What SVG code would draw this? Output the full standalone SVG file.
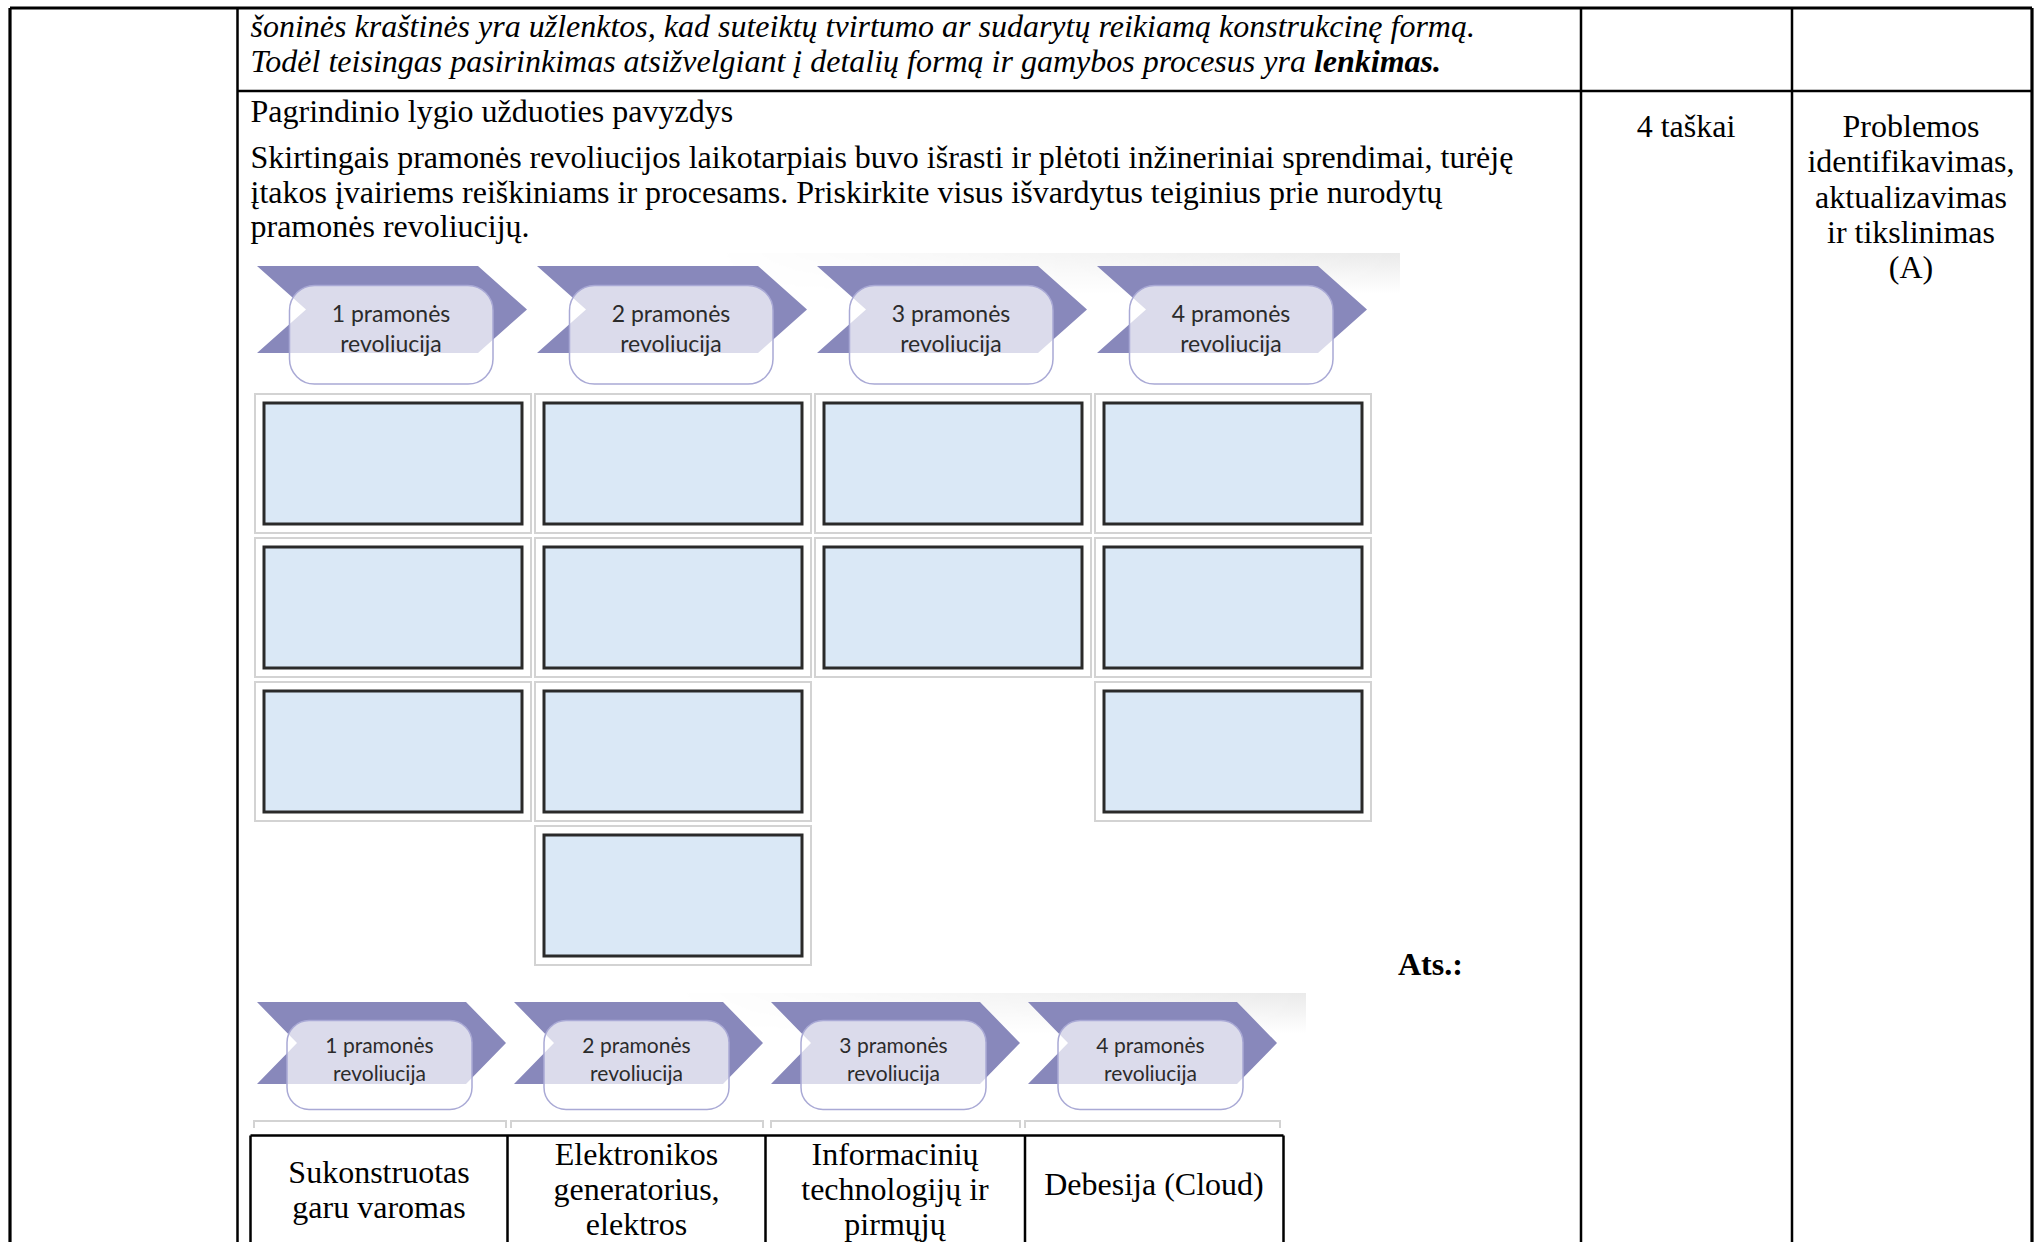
<svg xmlns="http://www.w3.org/2000/svg" width="2035" height="1242" viewBox="0 0 2035 1242">
<defs>
<style>
.t{font-family:"Liberation Serif","Times New Roman",serif;font-size:32px;fill:#000}
.i{font-style:italic}
.b{font-weight:bold}
.c{text-anchor:middle}
.ln{stroke:#000;stroke-width:2.5;fill:none}
.lo{stroke:#000;stroke-width:3.2;fill:none}
.chev{fill:#8888BB}
.pill{fill:#fff;fill-opacity:0.7;stroke:#A9A9D5;stroke-width:1.5}
.pl{font-family:Lato,"Open Sans",sans-serif;font-size:23px;fill:#2b2b2b;text-anchor:middle}
.pl2{font-size:21px}
.ob{fill:#fff;stroke:#D3D3D3;stroke-width:2}
.ib{fill:#DAE8F6;stroke:#2A2A2A;stroke-width:3}
.gl{fill:none;stroke:#D3D3D3;stroke-width:2}
</style>
<linearGradient id="gh" x1="0" y1="0" x2="1" y2="0"><stop offset="0" stop-color="#000"/><stop offset="0.4" stop-color="#000"/><stop offset="1" stop-color="#fff"/></linearGradient>
<linearGradient id="gv" x1="0" y1="0" x2="0" y2="1"><stop offset="0" stop-color="#EAEAEA"/><stop offset="1" stop-color="#FFFFFF"/></linearGradient>
<mask id="mh" maskContentUnits="objectBoundingBox"><rect width="1" height="1" fill="url(#gh)"/></mask>
</defs>
<rect width="2035" height="1242" fill="#fff"/>

<g id="table">
<path class="lo" d="M10,8 H2032 M10,8 V1242 M2032,8 V1242"/>
<path class="ln" d="M237.5,8 V1242 M1581,8 V1242 M1792,8 V1242 M237.5,91 H2032"/>
</g>

<g id="row1-text">
<text class="t i" x="250.5" y="37">šoninės kraštinės yra užlenktos, kad suteiktų tvirtumo ar sudarytų reikiamą konstrukcinę formą.</text>
<text class="t i" x="250.5" y="72">Todėl teisingas pasirinkimas atsižvelgiant į detalių formą ir gamybos procesus yra <tspan class="b">lenkimas.</tspan></text>
</g>

<g id="task-text">
<text class="t" x="250.5" y="121.5">Pagrindinio lygio užduoties pavyzdys</text>
<text class="t" x="250.5" y="168">Skirtingais pramonės revoliucijos laikotarpiais buvo išrasti ir plėtoti inžineriniai sprendimai, turėję</text>
<text class="t" x="250.5" y="202.5">įtakos įvairiems reiškiniams ir procesams. Priskirkite visus išvardytus teiginius prie nurodytų</text>
<text class="t" x="250.5" y="237">pramonės revoliucijų.</text>
</g>

<g id="points"><text class="t c" x="1686" y="137">4 taškai</text></g>
<g id="competence">
<text class="t c" x="1911" y="137">Problemos</text>
<text class="t c" x="1911" y="172">identifikavimas,</text>
<text class="t c" x="1911" y="207.5">aktualizavimas</text>
<text class="t c" x="1911" y="243">ir tikslinimas</text>
<text class="t c" x="1911" y="278">(A)</text>
</g>

<rect x="250" y="253" width="1150" height="40" fill="url(#gv)" mask="url(#mh)"/>
<rect x="250" y="993" width="1056" height="40" fill="url(#gv)" mask="url(#mh)"/>

<g id="rev1">
<path class="chev" d="M257,266 H478 L527,309.5 L478,353 H257 L306,309.5 Z"/>
<rect class="pill" x="289.5" y="285.5" width="203.5" height="98.5" rx="25"/>
<text class="pl" x="391" y="322">1 pramonės</text><text class="pl" x="391" y="352">revoliucija</text>
</g>
<g id="rev2">
<path class="chev" d="M537,266 H758 L807,309.5 L758,353 H537 L586,309.5 Z"/>
<rect class="pill" x="569.5" y="285.5" width="203.5" height="98.5" rx="25"/>
<text class="pl" x="671" y="322">2 pramonės</text><text class="pl" x="671" y="352">revoliucija</text>
</g>
<g id="rev3">
<path class="chev" d="M817,266 H1038 L1087,309.5 L1038,353 H817 L866,309.5 Z"/>
<rect class="pill" x="849.5" y="285.5" width="203.5" height="98.5" rx="25"/>
<text class="pl" x="951" y="322">3 pramonės</text><text class="pl" x="951" y="352">revoliucija</text>
</g>
<g id="rev4">
<path class="chev" d="M1097,266 H1318 L1367,309.5 L1318,353 H1097 L1146,309.5 Z"/>
<rect class="pill" x="1129.5" y="285.5" width="203.5" height="98.5" rx="25"/>
<text class="pl" x="1231" y="322">4 pramonės</text><text class="pl" x="1231" y="352">revoliucija</text>
</g>

<g id="slots">
<g id="s11"><rect class="ob" x="255" y="394" width="276" height="139"/><rect class="ib" x="264" y="403" width="258" height="121"/></g>
<g id="s12"><rect class="ob" x="535" y="394" width="276" height="139"/><rect class="ib" x="544" y="403" width="258" height="121"/></g>
<g id="s13"><rect class="ob" x="815" y="394" width="276" height="139"/><rect class="ib" x="824" y="403" width="258" height="121"/></g>
<g id="s14"><rect class="ob" x="1095" y="394" width="276" height="139"/><rect class="ib" x="1104" y="403" width="258" height="121"/></g>
<g id="s21"><rect class="ob" x="255" y="538" width="276" height="139"/><rect class="ib" x="264" y="547" width="258" height="121"/></g>
<g id="s22"><rect class="ob" x="535" y="538" width="276" height="139"/><rect class="ib" x="544" y="547" width="258" height="121"/></g>
<g id="s23"><rect class="ob" x="815" y="538" width="276" height="139"/><rect class="ib" x="824" y="547" width="258" height="121"/></g>
<g id="s24"><rect class="ob" x="1095" y="538" width="276" height="139"/><rect class="ib" x="1104" y="547" width="258" height="121"/></g>
<g id="s31"><rect class="ob" x="255" y="682" width="276" height="139"/><rect class="ib" x="264" y="691" width="258" height="121"/></g>
<g id="s32"><rect class="ob" x="535" y="682" width="276" height="139"/><rect class="ib" x="544" y="691" width="258" height="121"/></g>
<g id="s34"><rect class="ob" x="1095" y="682" width="276" height="139"/><rect class="ib" x="1104" y="691" width="258" height="121"/></g>
<g id="s42"><rect class="ob" x="535" y="826" width="276" height="139"/><rect class="ib" x="544" y="835" width="258" height="121"/></g>
</g>

<g id="answer-label"><text class="t b" x="1398" y="975">Ats.:</text></g>

<g id="arev1">
<path class="chev" d="M257,1002 H466 L506,1043 L466,1084 H257 L297,1043 Z"/>
<rect class="pill" x="287" y="1020.5" width="185" height="89" rx="22"/>
<text class="pl pl2" x="379.5" y="1052.5">1 pramonės</text><text class="pl pl2" x="379.5" y="1080.5">revoliucija</text>
</g>
<g id="arev2">
<path class="chev" d="M514,1002 H723 L763,1043 L723,1084 H514 L554,1043 Z"/>
<rect class="pill" x="544" y="1020.5" width="185" height="89" rx="22"/>
<text class="pl pl2" x="636.5" y="1052.5">2 pramonės</text><text class="pl pl2" x="636.5" y="1080.5">revoliucija</text>
</g>
<g id="arev3">
<path class="chev" d="M771,1002 H980 L1020,1043 L980,1084 H771 L811,1043 Z"/>
<rect class="pill" x="801" y="1020.5" width="185" height="89" rx="22"/>
<text class="pl pl2" x="893.5" y="1052.5">3 pramonės</text><text class="pl pl2" x="893.5" y="1080.5">revoliucija</text>
</g>
<g id="arev4">
<path class="chev" d="M1028,1002 H1237 L1277,1043 L1237,1084 H1028 L1068,1043 Z"/>
<rect class="pill" x="1058" y="1020.5" width="185" height="89" rx="22"/>
<text class="pl pl2" x="1150.5" y="1052.5">4 pramonės</text><text class="pl pl2" x="1150.5" y="1080.5">revoliucija</text>
</g>
<path class="gl" d="M254,1128 V1121 H506 V1128 M511,1128 V1121 H763 V1128 M771,1128 V1121 H1020 V1128 M1025,1128 V1121 H1280 V1128"/>

<g id="answer-table">
<path class="ln" d="M250.5,1135.5 H1283.5 M250.5,1135.5 V1242 M507.5,1135.5 V1242 M765.5,1135.5 V1242 M1025,1135.5 V1242 M1283.5,1135.5 V1242"/>
<text class="t c" x="379" y="1183">Sukonstruotas</text>
<text class="t c" x="379" y="1218">garu varomas</text>
<text class="t c" x="636.5" y="1165">Elektronikos</text>
<text class="t c" x="636.5" y="1200">generatorius,</text>
<text class="t c" x="636.5" y="1235">elektros</text>
<text class="t c" x="895" y="1165">Informacinių</text>
<text class="t c" x="895" y="1200">technologijų ir</text>
<text class="t c" x="895" y="1235">pirmųjų</text>
<text class="t c" x="1154" y="1195">Debesija (Cloud)</text>
</g>
</svg>
